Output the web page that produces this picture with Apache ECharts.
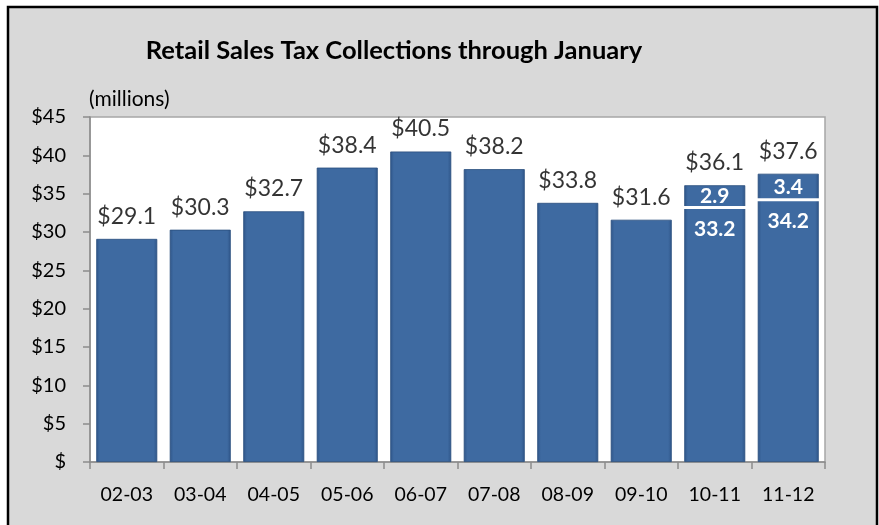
<!DOCTYPE html>
<html>
<head>
<meta charset="utf-8">
<script src="https://cdn.jsdelivr.net/npm/echarts@6/dist/echarts.min.js"></script>
<style>
html,body{margin:0;padding:0;background:#fff;}
#chart{width:879px;height:525px;}
</style>
</head>
<body>
<div id="chart"></div>
<script>
var categories = ['02-03','03-04','04-05','05-06','06-07','07-08','08-09','09-10','10-11','11-12'];
var baseValues = [29.1,30.3,32.7,38.4,40.5,38.2,33.8,31.6,33.2,34.2];
var topValues = [null,null,null,null,null,null,null,null,2.9,3.4];
var totals = [29.1,30.3,32.7,38.4,40.5,38.2,33.8,31.6,36.1,37.6];
var yTicks = [0,5,10,15,20,25,30,35,40,45];

var FONT = 'Lato, "Open Sans", sans-serif';
var barColor = {
  type:'linear', x:0, y:0, x2:1, y2:0,
  colorStops:[
    {offset:0, color:'#2f5689'},
    {offset:0.06, color:'#3e6aa1'},
    {offset:0.94, color:'#3e6aa1'},
    {offset:1, color:'#2f5689'}
  ]
};

var baseData = baseValues.map(function(v,i){
  var item = {value:v};
  if (topValues[i] != null) {
    item.label = {show:true, position:'insideTop', distance:11, color:'#fff', fontWeight:'bold', fontSize:21, fontFamily:FONT,
      formatter:function(p){return p.value.toFixed(1);}};
  }
  return item;
});
var dividerData = [];
baseValues.forEach(function(v,i){ if (topValues[i] != null) dividerData.push([i, v]); });

var chart = echarts.init(document.getElementById('chart'));
chart.setOption({
  animation:false,
  backgroundColor:'#ffffff',
  graphic:[{
    type:'rect', z:-10, silent:true,
    shape:{x:8, y:7, width:869, height:540},
    style:{fill:'#d9d9d9', stroke:'#000', lineWidth:2.5}
  },{
    type:'text', left:89, top:89, silent:true,
    style:{text:'(millions)', fontSize:21, fontFamily:FONT, fill:'#000'}
  }],
  title:{
    text:'Retail Sales Tax Collections through January',
    left:389, top:33, textAlign:'center',
    textStyle:{fontSize:25.5, fontWeight:'bold', fontFamily:FONT, color:'#000'}
  },
  grid:{left:90, top:117, right:54, bottom:63, show:true, backgroundColor:'#ffffff', borderColor:'#a6a6a6', borderWidth:1.5},
  xAxis:{
    type:'category', data:categories,
    axisLine:{lineStyle:{color:'#8c8c8c', width:1.5}},
    axisTick:{show:true, alignWithLabel:false, length:7, lineStyle:{color:'#8c8c8c', width:1.5}},
    axisLabel:{fontSize:19.5, fontFamily:FONT, color:'#000', margin:23}
  },
  yAxis:{
    type:'value', min:0, max:45, interval:5,
    splitLine:{show:false},
    axisLine:{show:true, lineStyle:{color:'#8c8c8c', width:1.5}},
    axisTick:{show:true, length:7, lineStyle:{color:'#8c8c8c', width:1.5}},
    axisLabel:{fontSize:20, fontFamily:FONT, color:'#000', margin:24,
      formatter:function(v){ return yTicks.indexOf(v) >= 0 ? (v === 0 ? '$' : '$' + v) : ''; }}
  },
  series:[{
    type:'bar', stack:'s', data:baseData, barCategoryGap:'17%',
    itemStyle:{color:barColor, borderColor:'#2a4e7e', borderWidth:0.8}
  },{
    type:'bar', stack:'s', data:topValues, barCategoryGap:'17%',
    itemStyle:{color:barColor, borderColor:'#2a4e7e', borderWidth:0.8},
    label:{show:true, position:'inside', color:'#fff', fontWeight:'bold', fontSize:21, fontFamily:FONT,
      formatter:function(p){return p.value == null ? '' : p.value.toFixed(1);}}
  },{
    type:'custom', data:dividerData, z:10,
    renderItem:function(params, api){
      var pt = api.coord([api.value(0), api.value(1)]);
      var bw = api.size([1,0])[0] * 0.85;
      return {type:'line', shape:{x1:pt[0]-bw/2, y1:pt[1], x2:pt[0]+bw/2, y2:pt[1]},
        style:{stroke:'#fff', lineWidth:3}};
    }
  },{
    type:'scatter', data:totals, symbolSize:0, z:11,
    label:{show:true, position:'top', distance:11, fontSize:23, fontFamily:FONT, color:'#000',
      formatter:function(p){return '$' + p.value.toFixed(1);}}
  }]
});
</script>
</body>
</html>
